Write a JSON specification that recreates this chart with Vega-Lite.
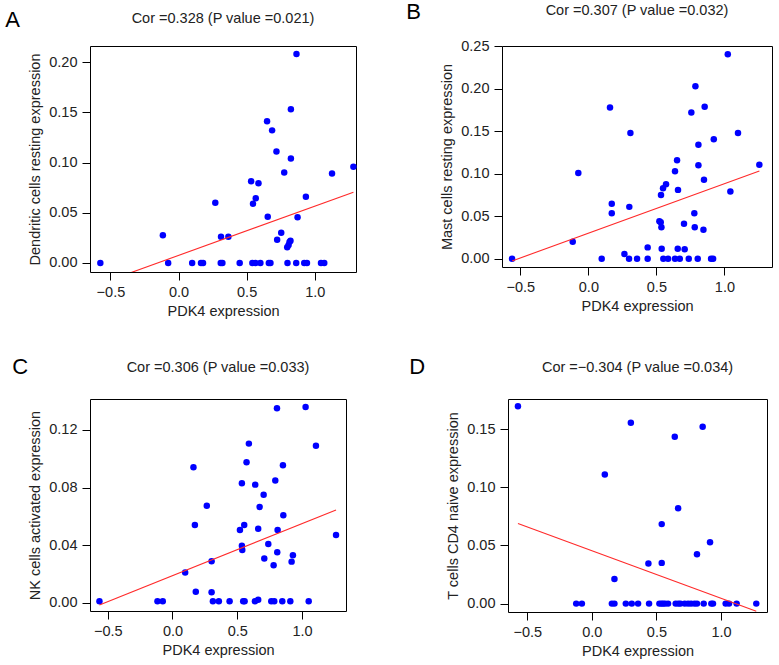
{
  "$schema": "https://vega.github.io/schema/vega-lite/v6.json",
  "background": "white",
  "padding": {"left": 5, "top": 1, "right": 5, "bottom": 2},
  "datasets": {
    "A": [
      {"x": -0.574, "y": 0}, {"x": -0.115, "y": 0.0276}, {"x": -0.076, "y": 0}, {"x": 0.10, "y": 0},
      {"x": 0.165, "y": 0}, {"x": 0.18, "y": 0}, {"x": 0.27, "y": 0.060}, {"x": 0.312, "y": 0.026},
      {"x": 0.31, "y": 0}, {"x": 0.322, "y": 0}, {"x": 0.366, "y": 0.026}, {"x": 0.449, "y": 0},
      {"x": 0.533, "y": 0.0814}, {"x": 0.547, "y": 0.059}, {"x": 0.567, "y": 0.0645}, {"x": 0.587, "y": 0.0794},
      {"x": 0.542, "y": 0}, {"x": 0.565, "y": 0}, {"x": 0.601, "y": 0}, {"x": 0.650, "y": 0.141},
      {"x": 0.655, "y": 0.046}, {"x": 0.663, "y": 0}, {"x": 0.675, "y": 0}, {"x": 0.687, "y": 0.132},
      {"x": 0.719, "y": 0.111}, {"x": 0.724, "y": 0.023}, {"x": 0.754, "y": 0.030}, {"x": 0.776, "y": 0.090},
      {"x": 0.798, "y": 0.0156}, {"x": 0.808, "y": 0.018}, {"x": 0.815, "y": 0.021}, {"x": 0.822, "y": 0.022},
      {"x": 0.80, "y": 0}, {"x": 0.825, "y": 0.153}, {"x": 0.825, "y": 0.104}, {"x": 0.866, "y": 0.208},
      {"x": 0.874, "y": 0.0455}, {"x": 0.864, "y": 0}, {"x": 0.923, "y": 0}, {"x": 0.943, "y": 0},
      {"x": 0.935, "y": 0.066}, {"x": 1.046, "y": 0}, {"x": 1.07, "y": 0}, {"x": 1.127, "y": 0.089},
      {"x": 1.284, "y": 0.0957}
    ],
    "B": [
      {"x": -0.561, "y": 0}, {"x": -0.115, "y": 0.020}, {"x": -0.074, "y": 0.101}, {"x": 0.098, "y": 0},
      {"x": 0.159, "y": 0.178}, {"x": 0.172, "y": 0.0534}, {"x": 0.172, "y": 0.0648}, {"x": 0.265, "y": 0.0055},
      {"x": 0.299, "y": 0}, {"x": 0.301, "y": 0.061}, {"x": 0.309, "y": 0.148}, {"x": 0.358, "y": 0},
      {"x": 0.436, "y": 0.0133}, {"x": 0.436, "y": 0}, {"x": 0.522, "y": 0.044}, {"x": 0.532, "y": 0.043},
      {"x": 0.534, "y": 0.075}, {"x": 0.537, "y": 0.037}, {"x": 0.539, "y": 0.0118}, {"x": 0.549, "y": 0.0828},
      {"x": 0.571, "y": 0.0875}, {"x": 0.551, "y": 0}, {"x": 0.586, "y": 0}, {"x": 0.637, "y": 0.103},
      {"x": 0.637, "y": 0}, {"x": 0.652, "y": 0.116}, {"x": 0.657, "y": 0.0118}, {"x": 0.659, "y": 0.081},
      {"x": 0.672, "y": 0}, {"x": 0.703, "y": 0.041}, {"x": 0.708, "y": 0.011}, {"x": 0.738, "y": 0},
      {"x": 0.757, "y": 0.172}, {"x": 0.779, "y": 0.0534}, {"x": 0.782, "y": 0.037}, {"x": 0.787, "y": 0.203},
      {"x": 0.804, "y": 0}, {"x": 0.809, "y": 0.134}, {"x": 0.809, "y": 0.110}, {"x": 0.846, "y": 0.034},
      {"x": 0.850, "y": 0.093}, {"x": 0.855, "y": 0.179}, {"x": 0.902, "y": 0}, {"x": 0.917, "y": 0},
      {"x": 0.922, "y": 0.1405}, {"x": 1.025, "y": 0.2406}, {"x": 1.044, "y": 0.079}, {"x": 1.100, "y": 0.148},
      {"x": 1.257, "y": 0.1107}
    ],
    "C": [
      {"x": -0.564, "y": 0.001}, {"x": -0.116, "y": 0.001}, {"x": -0.075, "y": 0.001}, {"x": 0.098, "y": 0.021},
      {"x": 0.162, "y": 0.094}, {"x": 0.173, "y": 0.054}, {"x": 0.180, "y": 0.0076}, {"x": 0.265, "y": 0.0674},
      {"x": 0.302, "y": 0.0287}, {"x": 0.302, "y": 0.0072}, {"x": 0.312, "y": 0.001}, {"x": 0.358, "y": 0.001},
      {"x": 0.441, "y": 0.001}, {"x": 0.521, "y": 0.0505}, {"x": 0.536, "y": 0.083}, {"x": 0.536, "y": 0.0396},
      {"x": 0.539, "y": 0.0366}, {"x": 0.546, "y": 0.001}, {"x": 0.557, "y": 0.001}, {"x": 0.554, "y": 0.054},
      {"x": 0.572, "y": 0.0975}, {"x": 0.590, "y": 0.1105}, {"x": 0.639, "y": 0.082}, {"x": 0.637, "y": 0.001},
      {"x": 0.662, "y": 0.002}, {"x": 0.662, "y": 0.0514}, {"x": 0.673, "y": 0.0665}, {"x": 0.704, "y": 0.075},
      {"x": 0.709, "y": 0.0306}, {"x": 0.740, "y": 0.0408}, {"x": 0.763, "y": 0.001}, {"x": 0.786, "y": 0.001},
      {"x": 0.781, "y": 0.026}, {"x": 0.794, "y": 0.0848}, {"x": 0.807, "y": 0.135}, {"x": 0.812, "y": 0.0505},
      {"x": 0.809, "y": 0.035}, {"x": 0.848, "y": 0.001}, {"x": 0.856, "y": 0.0607}, {"x": 0.853, "y": 0.0954},
      {"x": 0.910, "y": 0.001}, {"x": 0.920, "y": 0.0285}, {"x": 0.930, "y": 0.0329}, {"x": 1.028, "y": 0.136},
      {"x": 1.052, "y": 0.001}, {"x": 1.108, "y": 0.109}, {"x": 1.263, "y": 0.047}
    ],
    "D": [
      {"x": -0.572, "y": 0.1695}, {"x": -0.121, "y": 0}, {"x": -0.077, "y": 0}, {"x": 0.1005, "y": 0.111},
      {"x": 0.155, "y": 0}, {"x": 0.175, "y": 0}, {"x": 0.175, "y": 0.0212}, {"x": 0.263, "y": 0},
      {"x": 0.302, "y": 0.1554}, {"x": 0.309, "y": 0}, {"x": 0.358, "y": 0}, {"x": 0.438, "y": 0.0344},
      {"x": 0.443, "y": 0}, {"x": 0.523, "y": 0}, {"x": 0.539, "y": 0}, {"x": 0.552, "y": 0},
      {"x": 0.567, "y": 0}, {"x": 0.590, "y": 0}, {"x": 0.541, "y": 0.035}, {"x": 0.541, "y": 0.0683},
      {"x": 0.642, "y": 0.1434}, {"x": 0.649, "y": 0}, {"x": 0.670, "y": 0}, {"x": 0.686, "y": 0},
      {"x": 0.668, "y": 0.082}, {"x": 0.719, "y": 0}, {"x": 0.745, "y": 0}, {"x": 0.768, "y": 0},
      {"x": 0.794, "y": 0}, {"x": 0.814, "y": 0}, {"x": 0.814, "y": 0.0424}, {"x": 0.858, "y": 0.152},
      {"x": 0.866, "y": 0}, {"x": 0.915, "y": 0.0528}, {"x": 0.925, "y": 0}, {"x": 0.938, "y": 0},
      {"x": 1.036, "y": 0}, {"x": 1.062, "y": 0}, {"x": 1.121, "y": 0}, {"x": 1.273, "y": 0}
    ],
    "lines": [
      {"panel": "A", "x": -0.574, "y": -0.0206}, {"panel": "A", "x": 1.284, "y": 0.0704},
      {"panel": "B", "x": -0.561, "y": -0.0027}, {"panel": "B", "x": 1.257, "y": 0.1032},
      {"panel": "C", "x": -0.564, "y": -0.0016}, {"panel": "C", "x": 1.263, "y": 0.0644},
      {"panel": "D", "x": -0.572, "y": 0.0688}, {"panel": "D", "x": 1.273, "y": -0.0066}
    ]
  },
  "vconcat": [
    {
      "spacing": 48,
      "hconcat": [
        {
          "title": {"text": "A", "anchor": "start", "fontSize": 22, "dx": -22, "dy": 26, "color": "black"},
          "vconcat": [
            {
              "width": 266, "height": 226,
              "title": {"text": "Cor =0.328 (P value =0.021)", "offset": 20},
              "layer": [
                {
                  "data": {"name": "A"},
                  "mark": {"type": "circle", "size": 42, "color": "#0000FF", "opacity": 1},
                  "encoding": {
                    "x": {"field": "x", "type": "quantitative", "scale": {"domain": [-0.65, 1.303], "nice": false, "zero": false}, "axis": {"values": [-0.5, 0, 0.5, 1.0], "format": ".1f", "title": "PDK4 expression"}},
                    "y": {"field": "y", "type": "quantitative", "scale": {"domain": [-0.009, 0.216], "nice": false, "zero": false}, "axis": {"values": [0, 0.05, 0.1, 0.15, 0.2], "format": ".2f", "title": "Dendritic cells resting expression"}}
                  }
                },
                {
                  "data": {"name": "lines"},
                  "transform": [{"filter": "datum.panel === 'A'"}],
                  "mark": {"type": "line", "color": "#FF2A2A", "strokeWidth": 1.1, "clip": true},
                  "encoding": {
                    "x": {"field": "x", "type": "quantitative"},
                    "y": {"field": "y", "type": "quantitative"}
                  }
                }
              ]
            }
          ]
        },
        {
          "title": {"text": "B", "anchor": "start", "fontSize": 22, "dx": -33, "dy": 26, "color": "black"},
          "vconcat": [
            {
              "width": 270, "height": 221,
              "title": {"text": "Cor =0.307 (P value =0.032)", "offset": 20},
              "layer": [
                {
                  "data": {"name": "B"},
                  "mark": {"type": "circle", "size": 42, "color": "#0000FF", "opacity": 1},
                  "encoding": {
                    "x": {"field": "x", "type": "quantitative", "scale": {"domain": [-0.635, 1.35], "nice": false, "zero": false}, "axis": {"values": [-0.5, 0, 0.5, 1.0], "format": ".1f", "title": "PDK4 expression"}},
                    "y": {"field": "y", "type": "quantitative", "scale": {"domain": [-0.0098, 0.2504], "nice": false, "zero": false}, "axis": {"values": [0, 0.05, 0.1, 0.15, 0.2, 0.25], "format": ".2f", "title": "Mast cells resting expression"}}
                  }
                },
                {
                  "data": {"name": "lines"},
                  "transform": [{"filter": "datum.panel === 'B'"}],
                  "mark": {"type": "line", "color": "#FF2A2A", "strokeWidth": 1.1, "clip": true},
                  "encoding": {
                    "x": {"field": "x", "type": "quantitative"},
                    "y": {"field": "y", "type": "quantitative"}
                  }
                }
              ]
            }
          ]
        }
      ]
    },
    {
      "spacing": 62,
      "hconcat": [
        {
          "title": {"text": "C", "anchor": "start", "fontSize": 22, "dx": -15, "dy": 24, "color": "black"},
          "vconcat": [
            {
              "width": 256, "height": 212,
              "title": {"text": "Cor =0.306 (P value =0.033)", "offset": 24},
              "layer": [
                {
                  "data": {"name": "C"},
                  "mark": {"type": "circle", "size": 42, "color": "#0000FF", "opacity": 1},
                  "encoding": {
                    "x": {"field": "x", "type": "quantitative", "scale": {"domain": [-0.637, 1.34], "nice": false, "zero": false}, "axis": {"values": [-0.5, 0, 0.5, 1.0], "format": ".1f", "title": "PDK4 expression"}},
                    "y": {"field": "y", "type": "quantitative", "scale": {"domain": [-0.0058, 0.1415], "nice": false, "zero": false}, "axis": {"values": [0, 0.02, 0.04, 0.06, 0.08, 0.1, 0.12, 0.14], "format": ".2f", "labelExpr": "indexof(['0.00','0.04','0.08','0.12'], datum.label) >= 0 ? datum.label : ''", "title": "NK cells activated expression"}}
                  }
                },
                {
                  "data": {"name": "lines"},
                  "transform": [{"filter": "datum.panel === 'C'"}],
                  "mark": {"type": "line", "color": "#FF2A2A", "strokeWidth": 1.1, "clip": true},
                  "encoding": {
                    "x": {"field": "x", "type": "quantitative"},
                    "y": {"field": "y", "type": "quantitative"}
                  }
                }
              ]
            }
          ]
        },
        {
          "title": {"text": "D", "anchor": "start", "fontSize": 22, "dx": -36, "dy": 24, "color": "black"},
          "vconcat": [
            {
              "width": 259, "height": 213,
              "title": {"text": "Cor =−0.304 (P value =0.034)", "offset": 24},
              "layer": [
                {
                  "data": {"name": "D"},
                  "mark": {"type": "circle", "size": 42, "color": "#0000FF", "opacity": 1},
                  "encoding": {
                    "x": {"field": "x", "type": "quantitative", "scale": {"domain": [-0.649, 1.356], "nice": false, "zero": false}, "axis": {"values": [-0.5, 0, 0.5, 1.0], "format": ".1f", "title": "PDK4 expression"}},
                    "y": {"field": "y", "type": "quantitative", "scale": {"domain": [-0.0072, 0.1758], "nice": false, "zero": false}, "axis": {"values": [0, 0.05, 0.1, 0.15], "format": ".2f", "title": "T cells CD4 naive expression"}}
                  }
                },
                {
                  "data": {"name": "lines"},
                  "transform": [{"filter": "datum.panel === 'D'"}],
                  "mark": {"type": "line", "color": "#FF2A2A", "strokeWidth": 1.1, "clip": true},
                  "encoding": {
                    "x": {"field": "x", "type": "quantitative"},
                    "y": {"field": "y", "type": "quantitative"}
                  }
                }
              ]
            }
          ]
        }
      ]
    }
  ],
  "spacing": 37,
  "config": {
    "font": "Liberation Sans",
    "view": {"stroke": "black", "strokeWidth": 1},
    "axis": {
      "domain": false, "grid": false, "tickColor": "#000", "tickSize": 8, "tickWidth": 1,
      "labelFontSize": 14.5, "titleFontSize": 14.5, "titleFontWeight": "normal",
      "labelFont": "Liberation Sans", "titleFont": "Liberation Sans",
      "labelColor": "#222", "titleColor": "#222", "labelPadding": 5, "titlePadding": 6
    },
    "title": {"font": "Liberation Sans", "fontSize": 14.5, "fontWeight": "normal", "color": "#222"}
  }
}
